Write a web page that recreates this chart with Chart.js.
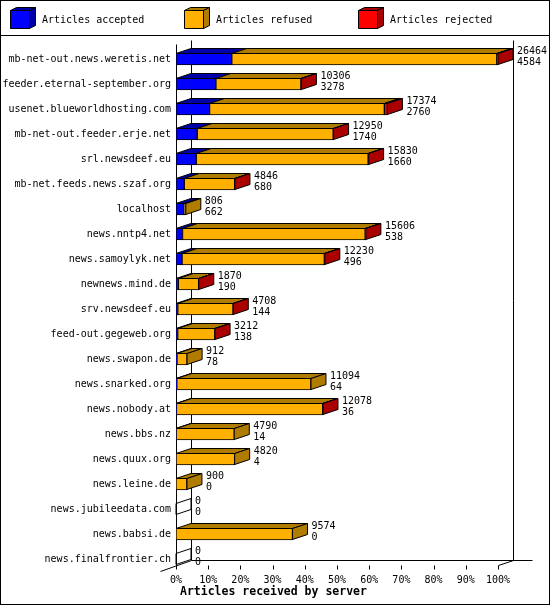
<!DOCTYPE html>
<html>
<head>
<meta charset="utf-8">
<script src="https://cdn.jsdelivr.net/npm/chart.js@4.4.1/dist/chart.umd.min.js"></script>
<style>
html, body { margin: 0; padding: 0; background: #fff; }
</style>
</head>
<body>
<canvas id="mycanvas" width="550" height="605"></canvas>
<script>
var servers = ['mb-net-out.news.weretis.net', 'feeder.eternal-september.org', 'usenet.blueworldhosting.com',
    'mb-net-out.feeder.erje.net', 'srl.newsdeef.eu', 'mb-net.feeds.news.szaf.org', 'localhost',
    'news.nntp4.net', 'news.samoylyk.net', 'newnews.mind.de', 'srv.newsdeef.eu', 'feed-out.gegeweb.org',
    'news.swapon.de', 'news.snarked.org', 'news.nobody.at', 'news.bbs.nz', 'news.quux.org',
    'news.leine.de', 'news.jubileedata.com', 'news.babsi.de', 'news.finalfrontier.ch'];
var offered  = [26464, 10306, 17374, 12950, 15830, 4846, 806, 15606, 12230, 1870, 4708, 3212, 912, 11094, 12078, 4790, 4820, 900, 0, 9574, 0];
var accepted = [4584, 3278, 2760, 1740, 1660, 680, 662, 538, 496, 190, 144, 138, 78, 64, 36, 14, 4, 0, 0, 0, 0];
var refused  = [21780, 6988, 14364, 11180, 14130, 4146, 144, 15008, 11694, 1670, 4544, 3054, 834, 11030, 12022, 4776, 4816, 900, 0, 9574, 0];
var rejected = [100, 40, 250, 30, 40, 20, 0, 60, 40, 10, 20, 20, 0, 0, 20, 0, 0, 0, 0, 0, 0];
var seriesNames = ['Articles accepted', 'Articles refused', 'Articles rejected'];
var tickStep = 10;
var axisTitle = 'Articles received by server';

var frontColors = ['#0000ff', '#ffb000', '#ff0000'];
var darkColors = ['#0000aa', '#b07c00', '#aa0000'];
var DX = 15, DY = 5;
var FONT = '10px "DejaVu Sans Mono"';

var maxOffered = Math.max.apply(null, offered);
function pct(arr) {
    return arr.map(function(v){ return v * 100 / maxOffered; });
}

function poly(ctx, pts, fill) {
    ctx.beginPath();
    ctx.moveTo(pts[0][0], pts[0][1]);
    for (var k = 1; k < pts.length; k++) ctx.lineTo(pts[k][0], pts[k][1]);
    ctx.closePath();
    if (fill) { ctx.fillStyle = fill; ctx.fill(); }
    ctx.strokeStyle = '#000';
    ctx.lineWidth = 1;
    ctx.stroke();
}

function line(ctx, x0, y0, x1, y1) {
    ctx.beginPath();
    ctx.moveTo(x0, y0);
    ctx.lineTo(x1, y1);
    ctx.strokeStyle = '#000';
    ctx.lineWidth = 1;
    ctx.stroke();
}

var frame3d = {
    id: 'frame3d',
    beforeDraw: function(chart) {
        var ctx = chart.ctx;
        ctx.save();
        ctx.fillStyle = '#fff';
        ctx.fillRect(0, 0, chart.width, chart.height);
        // legend
        ctx.font = FONT;
        ctx.textBaseline = 'middle';
        ctx.textAlign = 'left';
        for (var d = 0; d < 3; d++) {
            var lx = 10.5 + d * 174;
            poly(ctx, [[lx, 10.5], [lx + 6, 7.5], [lx + 25, 7.5], [lx + 19, 10.5]], darkColors[d]);
            poly(ctx, [[lx + 19, 10.5], [lx + 25, 7.5], [lx + 25, 25.5], [lx + 19, 28.5]], darkColors[d]);
            poly(ctx, [[lx, 10.5], [lx + 19, 10.5], [lx + 19, 28.5], [lx, 28.5]], frontColors[d]);
            ctx.fillStyle = '#000';
            ctx.fillText(chart.data.datasets[d].label, lx + 31.5, 20);
        }
        line(ctx, 0, 35.5, chart.width, 35.5);
        ctx.restore();
    },
    beforeDatasetsDraw: function(chart) {
        var ctx = chart.ctx, a = chart.chartArea;
        var L = Math.round(a.left) + 0.5, R = Math.round(a.right) + 0.5;
        var floorFront = Math.round(a.bottom - 6.5) + 0.5;
        var floorBack = floorFront - DY;
        var topFront = Math.round(a.top - 2.5) + 0.5;
        ctx.save();
        line(ctx, L, topFront, L, floorFront);
        line(ctx, L + DX, topFront - DY + 1, L + DX, floorBack);
        line(ctx, R + DX, topFront - DY + 1, R + DX, floorBack);
        line(ctx, L + DX, floorBack, R + DX + 19, floorBack);
        line(ctx, L - 16, floorFront + 6, L + DX, floorBack);
        line(ctx, R, floorFront, R + DX, floorBack);
        var xs = chart.scales.x;
        for (var v = xs.min; v <= xs.max; v += tickStep) {
            var tx = Math.round(xs.getPixelForValue(v)) + 0.5;
            line(ctx, tx, floorFront, tx, floorFront + 4);
        }
        // axis title
        ctx.font = 'bold 11.5px "DejaVu Sans Mono"';
        ctx.fillStyle = '#000';
        ctx.textAlign = 'left';
        ctx.textBaseline = 'middle';
        ctx.fillText(axisTitle, L + 3.5, 592);
        ctx.restore();
    },
    afterDatasetsDraw: function(chart) {
        var ctx = chart.ctx, a = chart.chartArea;
        var metas = [0, 1, 2].map(function(d){ return chart.getDatasetMeta(d); });
        ctx.save();
        for (var i = 0; i < servers.length; i++) {
            var lastEnd = a.left, lastColor = null, top = 0, bottom = 0;
            for (var d = 0; d < 3; d++) {
                var p = metas[d].data[i].getProps(['x', 'y', 'base', 'height'], true);
                var x0 = Math.min(p.base, p.x), x1 = Math.max(p.base, p.x);
                top = Math.round(p.y - p.height / 2) + 0.5;
                bottom = Math.round(p.y + p.height / 2) - 0.5;
                if (x1 - x0 > 0.05) {
                    poly(ctx, [[x0, top], [x0 + DX, top - DY], [x1 + DX, top - DY], [x1, top]], darkColors[d]);
                    lastEnd = x1;
                    lastColor = darkColors[d];
                }
            }
            poly(ctx, [[lastEnd, top], [lastEnd + DX, top - DY], [lastEnd + DX, bottom - DY], [lastEnd, bottom]], lastColor);
            ctx.font = FONT;
            ctx.fillStyle = '#000';
            ctx.textAlign = 'left';
            ctx.textBaseline = 'middle';
            var cy = (top + bottom) / 2;
            ctx.fillText(String(offered[i]), lastEnd + DX + 4, cy - 8);
            ctx.fillText(String(accepted[i]), lastEnd + DX + 4, cy + 3);
        }
        ctx.strokeStyle = '#000';
        ctx.lineWidth = 1;
        ctx.strokeRect(0.5, 0.5, chart.width - 1, chart.height - 1);
        ctx.restore();
    }
};

var ctx = document.getElementById('mycanvas').getContext('2d');
var chardata = {
    labels: servers,
    datasets: [accepted, refused, rejected].map(function(arr, d) {
        return {
            label: seriesNames[d],
            data: pct(arr),
            backgroundColor: frontColors[d],
            borderColor: '#000',
            borderWidth: 1,
            borderSkipped: false,
            barThickness: 12
        };
    })
};

var barGraph = new Chart(ctx, {
    type: 'bar',
    data: chardata,
    plugins: [frame3d],
    options: {
        indexAxis: 'y',
        responsive: false,
        animation: false,
        devicePixelRatio: 1,
        layout: { padding: { left: 0, right: 52, top: 46.5, bottom: 0 } },
        plugins: { legend: { display: false }, tooltip: { enabled: false } },
        scales: {
            x: {
                stacked: true,
                min: 0,
                max: 100,
                grid: { display: false, drawTicks: false },
                border: { display: false },
                ticks: {
                    stepSize: tickStep,
                    padding: 3,
                    maxRotation: 0,
                    autoSkip: false,
                    color: '#000',
                    font: { family: 'DejaVu Sans Mono', size: 10 },
                    callback: function(v) { return v + '%'; }
                },
                afterFit: function(scale) { scale.height = 33.5; }
            },
            y: {
                stacked: true,
                grid: { display: false, drawTicks: false },
                border: { display: false },
                ticks: {
                    padding: 5,
                    autoSkip: false,
                    color: '#000',
                    font: { family: 'DejaVu Sans Mono', size: 10 }
                },
                afterFit: function(scale) { scale.width = 176; }
            }
        }
    }
});
</script>
</body>
</html>
